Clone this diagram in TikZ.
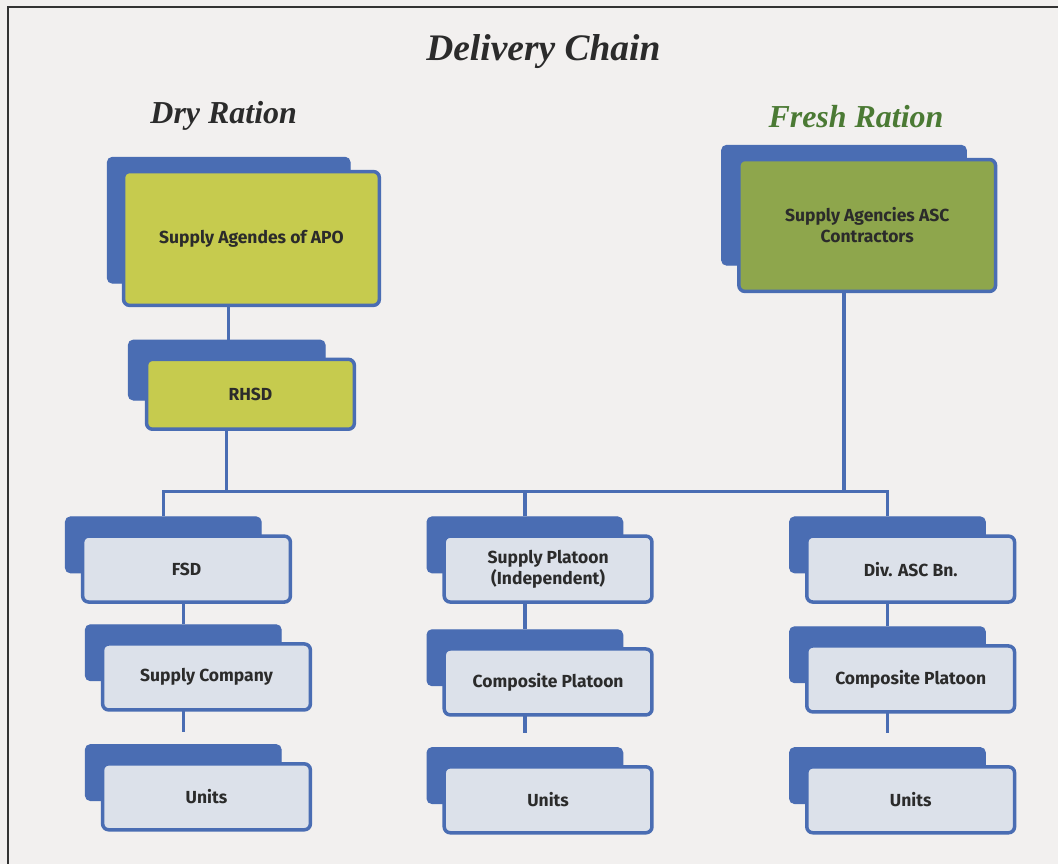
\documentclass[tikz,border=0pt]{standalone}
\usepackage{fontspec}
\setmainfont{Fira Sans}
\newfontfamily\titlefont{Liberation Serif}
\usetikzlibrary{calc}
\definecolor{frameblue}{HTML}{4A6DB3}
\definecolor{aporyellow}{HTML}{C6CB4E}
\definecolor{freshgreen}{HTML}{8EA64C}
\definecolor{lightbox}{HTML}{DCE1EA}
\definecolor{paper}{HTML}{F2F0EF}
\definecolor{txt}{HTML}{2B2B2B}
\definecolor{freshtxt}{HTML}{4B7A34}
\pgfdeclarelayer{paperlayer}
\pgfdeclarelayer{linelayer}
\pgfsetlayers{paperlayer,linelayer,main}
\tikzset{
  backbox/.style={fill=frameblue, draw=frameblue, line width=1pt, rounded corners=5pt, inner sep=0pt, anchor=north west},
  frontbox/.style={draw=frameblue, line width=3.5pt, rounded corners=6pt, inner sep=0pt, anchor=north west,
    text=txt, font=\bfseries\fontsize{17.5}{21}\selectfont, align=center},
  lightfill/.style={fill=lightbox},
  yellowfill/.style={fill=aporyellow},
  greenfill/.style={fill=freshgreen},
  conn/.style={draw=frameblue, line width=3.5pt},
  titletext/.style={font=\titlefont\bfseries\itshape\fontsize{37.5}{42}\selectfont, text=txt},
  subtext/.style={font=\titlefont\bfseries\itshape\fontsize{32}{36}\selectfont}
}
% #1 name, #2 back left, #3 back top, #4 fill style, #5 text
\newcommand\stk[5]{%
  \node[backbox, minimum width=196pt, minimum height=56pt] (#1b) at (#2,#3) {};
  \node[frontbox, #4, minimum width=208pt, minimum height=66pt] (#1) at ($(#1b.north west)+(16,18)$) {#5};}
\begin{document}
\begin{tikzpicture}[x=1pt,y=-1pt]
\begin{pgfonlayer}{paperlayer}
  \fill[paper] (0,0) rectangle (1059,865);
  \draw[line width=2.5pt, color=black!80] (8,865) -- (8,7) -- (1059,7);
\end{pgfonlayer}
\useasboundingbox (0,0) rectangle (1059,865);

\node[titletext] (title) at (544,52) {Delivery Chain};
\node[subtext, text=txt] (dry) at (224,116) {Dry Ration};
\node[subtext, text=freshtxt] (fresh) at (857,117) {Fresh Ration};

% big boxes
\node[backbox, minimum width=243pt, minimum height=126pt] (apob) at (107,157) {};
\node[frontbox, yellowfill, minimum width=256pt, minimum height=134pt] (apo) at (122,170) {Supply Agendes of APO};
\node[backbox, minimum width=245pt, minimum height=120pt] (freshbb) at (722,145) {};
\node[frontbox, greenfill, minimum width=257pt, minimum height=132pt] (freshbox) at (738,158) {Supply Agencies ASC\\Contractors};

% RHSD
\node[backbox, minimum width=197pt, minimum height=60pt] (rhsdb) at (128,340) {};
\node[frontbox, yellowfill, minimum width=208pt, minimum height=70pt] (rhsd) at (145,358) {RHSD};

% left column
\stk{fsd}{65}{517}{lightfill}{FSD}
\stk{sc}{85}{625}{lightfill}{Supply Company}
\stk{ul}{85}{745}{lightfill}{Units}
% middle column
\stk{sp}{427}{517}{lightfill}{Supply Platoon\\(Independent)}
\stk{cm}{427}{630}{lightfill}{Composite Platoon}
\stk{um}{427}{748}{lightfill}{Units}
% right column
\stk{div}{790}{517}{lightfill}{Div. ASC Bn.}
\stk{cr}{790}{627}{lightfill}{Composite Platoon}
\stk{ur}{790}{748}{lightfill}{Units}

\coordinate (bus) at (530,492);
\begin{pgfonlayer}{linelayer}
  \draw[conn] (apob.center) -- (apob.center |- rhsdb.north);
  \draw[conn] (rhsdb.center) -- (rhsdb.center |- bus);
  \draw[conn] (freshbb.center) -- (freshbb.center |- bus);
  \draw[conn] (fsdb.north) |- (bus) -| (divb.north);
  \draw[conn] (spb.north) -- (spb.north |- bus);
  \draw[conn] (scb.center |- fsd.center) -- (scb.north);
  \draw[conn] (cmb.center |- sp.center) -- (cmb.north);
  \draw[conn] (crb.center |- div.center) -- (crb.north);
  \draw[conn] (ulb.center |- sc.center) -- ($(ulb.north)+(0,-12)$);
  \draw[conn] (umb.center |- cm.center) -- ($(umb.north)+(0,-14)$);
  \draw[conn] (urb.center |- cr.center) -- ($(urb.north)+(0,-14)$);
\end{pgfonlayer}
\end{tikzpicture}
\end{document}
